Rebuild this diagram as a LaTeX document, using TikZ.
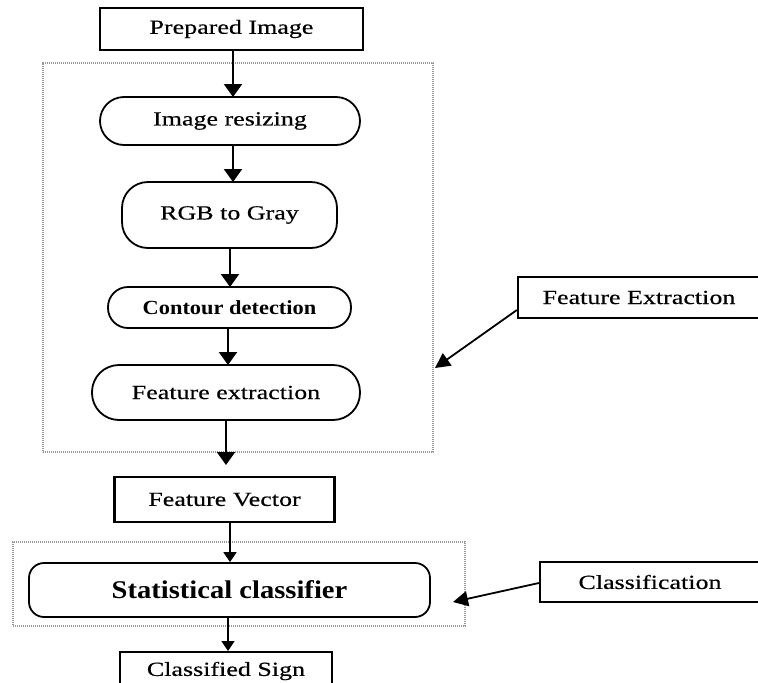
\documentclass[tikz,border=0pt]{standalone}
\usepackage{fontspec}
\setmainfont{Liberation Serif}[FakeStretch=1.3,FakeBold=0.4]
\newfontfamily\boldf{Liberation Serif Bold}[FakeStretch=1.12]
\usetikzlibrary{arrows.meta}
\begin{document}
\begin{tikzpicture}[x=1pt,y=-1pt,
  every node/.style={font=\fontsize{20}{24}\selectfont, inner sep=0pt, align=center},
  sqbox/.style={draw, line width=2.2pt, rectangle},
  pill/.style={draw, line width=1.8pt, rectangle},
  grp/.style={draw=black!40, line width=1.6pt, dash pattern=on 1.2pt off 0.8pt},
  arr/.style={line width=2.2pt, -{Triangle[length=13pt,width=18pt]}},
  sarr/.style={line width=1.8pt, -{Triangle[length=10pt,width=13pt]}},
  larr/.style={line width=1.8pt, -{Triangle[length=15pt,width=15pt]}}]
\useasboundingbox[fill=white] (0,0) rectangle (758,683);

% group boxes
\node[grp, minimum width=390pt, minimum height=389pt] (g1) at (238,257.5) {};
\node[grp, minimum width=452pt, minimum height=84pt] (g2) at (239,584) {};

% main nodes
\node[sqbox, minimum width=263pt, minimum height=42pt] (prep) at (231.5,29) {Prepared Image};
\node[pill, rounded corners=24pt, minimum width=260pt, minimum height=48pt] (resize) at (230,121) {Image resizing};
\node[pill, rounded corners=26pt, minimum width=215pt, minimum height=66pt] (rgb) at (229.5,215) {RGB to Gray};
\node[pill, rounded corners=20pt, minimum width=243pt, minimum height=41pt, font=\boldf\fontsize{20}{24}\selectfont] (contour) at (229.5,307.5) {Contour detection};
\node[pill, rounded corners=27pt, minimum width=268pt, minimum height=55pt] (featx) at (226,392.5) {Feature extraction};
\node[sqbox, minimum width=220pt, minimum height=45pt] (fv) at (224.5,499.5) {Feature Vector};
\node[pill, rounded corners=15pt, minimum width=401pt, minimum height=54pt, font=\boldf\fontsize{25.5}{30}\selectfont] (stat) at (229.5,590) {Statistical classifier};
\node[sqbox, minimum width=212pt, minimum height=50pt, anchor=north] (cls) at (226,651) {};
\node (clstext) at (226,671) {Classified Sign};

% side labels
\node[sqbox, minimum width=242pt, minimum height=41pt] (fxl) at (639,297.5) {Feature Extraction};
\node[sqbox, minimum width=220pt, minimum height=40pt] (cll) at (650,582) {Classification};

\coordinate (fxend) at (226,465);
\coordinate (fxtip) at (435,368);
\coordinate (cltip) at (453,602);

% connectors
\draw[arr] (233,50) -- (233,97);
\draw[arr] (233,145) -- (233,182);
\draw[arr] (230,248) -- (230,287);
\draw[arr] (228,328) -- (228,365);
\draw[arr] (featx.south) -- (fxend);
\draw[sarr] (fv.south -| 230,0) -- (stat.north -| 230,0);
\draw[sarr] (stat.south -| 228,0) -- (cls.north -| 228,0);
\draw[larr] ([yshift=-12.5pt]fxl.west) -- (fxtip);
\draw[larr] ([yshift=-1pt]cll.west) -- (cltip);
\end{tikzpicture}
\end{document}
